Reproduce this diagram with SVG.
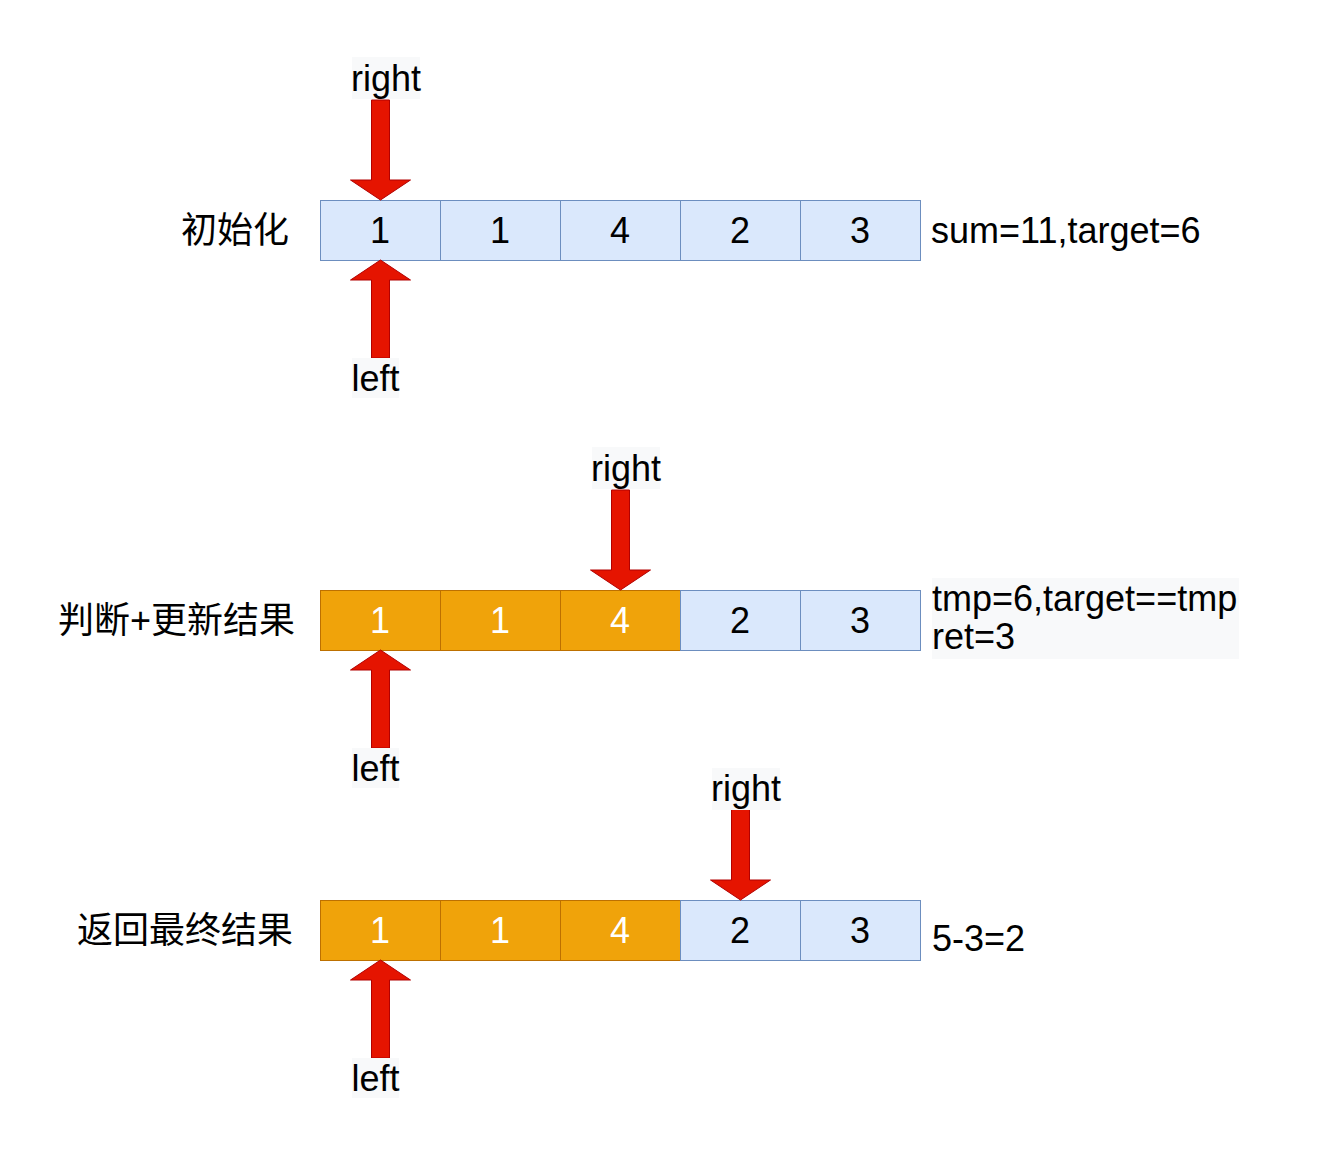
<svg xmlns="http://www.w3.org/2000/svg" width="1332" height="1151" viewBox="0 0 1332 1151">
<style>
.t{font-family:"Liberation Sans",Arial,sans-serif;font-size:36px;fill:#000}
.cjk{font-family:"Liberation Sans","Noto Sans CJK SC",sans-serif;font-size:36px;fill:#000}
.cb{fill:#dae8fc;stroke:#6c8ebf;stroke-width:1}
.co{fill:#f0a30a;stroke:#bd7000;stroke-width:1}
.n{font-family:"Liberation Sans",Arial,sans-serif;font-size:36px;text-anchor:middle}
.nb{fill:#000}
.nw{fill:#fff}
.arr{fill:#e51400;stroke:#b20000;stroke-width:1}
.lbg{fill:#f8f9fa}
</style>
<defs>
<path id="down" d="M-9,0 H9 V80 H30 L0,100 L-30,80 H-9 Z"/>
<path id="up" d="M-9,0 H9 V-78 H30 L0,-98 L-30,-78 H-9 Z"/>
</defs>
<rect width="1332" height="1151" fill="#fff"/>

<g id="row1">
<text class="cjk" x="289" y="243" text-anchor="end">初始化</text>
<g id="row1-cells">
<rect class="cb" x="320.5" y="200.5" width="120" height="60"/>
<rect class="cb" x="440.5" y="200.5" width="120" height="60"/>
<rect class="cb" x="560.5" y="200.5" width="120" height="60"/>
<rect class="cb" x="680.5" y="200.5" width="120" height="60"/>
<rect class="cb" x="800.5" y="200.5" width="120" height="60"/>
<text class="n nb" x="380" y="243">1</text>
<text class="n nb" x="500" y="243">1</text>
<text class="n nb" x="620" y="243">4</text>
<text class="n nb" x="740" y="243">2</text>
<text class="n nb" x="860" y="243">3</text>
</g>
<text class="t" x="931" y="243">sum=11,target=6</text>
</g>

<g id="row2">
<text class="cjk" x="295" y="633" text-anchor="end">判断+更新结果</text>
<g id="row2-cells">
<rect class="co" x="320.5" y="590.5" width="120" height="60"/>
<rect class="co" x="440.5" y="590.5" width="120" height="60"/>
<rect class="co" x="560.5" y="590.5" width="120" height="60"/>
<rect class="cb" x="680.5" y="590.5" width="120" height="60"/>
<rect class="cb" x="800.5" y="590.5" width="120" height="60"/>
<text class="n nw" x="380" y="633">1</text>
<text class="n nw" x="500" y="633">1</text>
<text class="n nw" x="620" y="633">4</text>
<text class="n nb" x="740" y="633">2</text>
<text class="n nb" x="860" y="633">3</text>
</g>
<rect class="lbg" x="932" y="578" width="307" height="81"/>
<text class="t" x="932" y="611">tmp=6,target==tmp</text>
<text class="t" x="932" y="649">ret=3</text>
</g>

<g id="row3">
<text class="cjk" x="293" y="943" text-anchor="end">返回最终结果</text>
<g id="row3-cells">
<rect class="co" x="320.5" y="900.5" width="120" height="60"/>
<rect class="co" x="440.5" y="900.5" width="120" height="60"/>
<rect class="co" x="560.5" y="900.5" width="120" height="60"/>
<rect class="cb" x="680.5" y="900.5" width="120" height="60"/>
<rect class="cb" x="800.5" y="900.5" width="120" height="60"/>
<text class="n nw" x="380" y="943">1</text>
<text class="n nw" x="500" y="943">1</text>
<text class="n nw" x="620" y="943">4</text>
<text class="n nb" x="740" y="943">2</text>
<text class="n nb" x="860" y="943">3</text>
</g>
<text class="t" x="932" y="951">5-3=2</text>
</g>

<g id="connectors">
<use href="#down" class="arr" transform="translate(380.5,100)"/>
<use href="#up" class="arr" transform="translate(380.5,358)"/>
<use href="#down" class="arr" transform="translate(620.5,490)"/>
<use href="#up" class="arr" transform="translate(380.5,748)"/>
<use href="#down" class="arr" transform="translate(740.5,800)"/>
<use href="#up" class="arr" transform="translate(380.5,1058)"/>
</g>

<g id="labels">
<g id="right1"><rect class="lbg" x="352" y="57" width="68" height="42"/><text class="t" x="386" y="91" text-anchor="middle">right</text></g>
<g id="left1"><rect class="lbg" x="352" y="358" width="47" height="40"/><text class="t" x="375.5" y="391" text-anchor="middle">left</text></g>
<g id="right2"><rect class="lbg" x="592" y="447" width="68" height="42"/><text class="t" x="626" y="481" text-anchor="middle">right</text></g>
<g id="left2"><rect class="lbg" x="352" y="748" width="47" height="40"/><text class="t" x="375.5" y="781" text-anchor="middle">left</text></g>
<g id="right3"><rect class="lbg" x="712" y="768" width="68" height="42"/><text class="t" x="746" y="801" text-anchor="middle">right</text></g>
<g id="left3"><rect class="lbg" x="352" y="1058" width="47" height="40"/><text class="t" x="375.5" y="1091" text-anchor="middle">left</text></g>
</g>
</svg>
